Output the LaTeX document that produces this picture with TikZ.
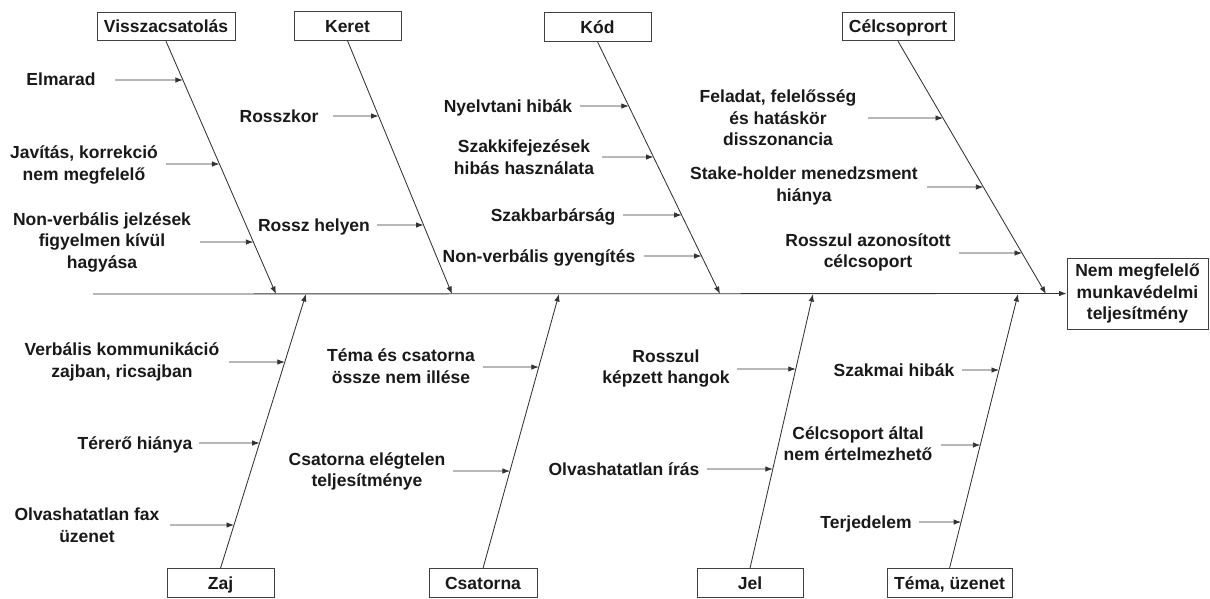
\documentclass[tikz,border=0pt]{standalone}
\usepackage{fontspec}
\setmainfont{Liberation Sans}
\usetikzlibrary{arrows.meta,calc}

% a cause arrow from a tail coordinate horizontally onto a branch line
\newcommand\causeto[2]{%
  \draw[cause] (#1) -- (intersection cs: first line={#2}, second line={(#1)--(#1 -| res.west)});}

\begin{document}
\begin{tikzpicture}[x=1pt,y=-1pt,
  every node/.style={font=\fontsize{17.5}{21.5}\selectfont\bfseries, text=black!90, inner sep=0pt},
  oneline/.style={text height=12.6pt, text depth=0pt},
  catbox/.style={draw=black!75, line width=0.9pt, minimum height=28.5pt, oneline},
  label/.style={align=center},
  line/.style={draw=black!80, line width=0.85pt},
  branch/.style={line, -{Latex[length=7.5pt,width=5.5pt]}},
  cause/.style={line, -{Latex[length=7.5pt,width=5.5pt]}}]
\useasboundingbox (0,0) rectangle (1210,598);

% effect box and spine
\node[draw=black!75, line width=0.9pt, minimum width=141pt, minimum height=71pt, align=center] (res) at (1137.5,293.5)
  {Nem megfelelő\\munkavédelmi\\teljesítmény};
\coordinate (spine) at (93,294);
\draw[branch] (spine) -- (res.west);

% category boxes above the spine
\node[catbox, minimum width=138pt] (vb) at (166,26.5) {Visszacsatolás};
\node[catbox, minimum width=107pt] (kb) at (347.5,26) {Keret};
\node[catbox, minimum width=107pt] (kd) at (597.5,27) {Kód};
\node[catbox, minimum width=112pt] (cb) at (898,26.5) {Célcsoprort};

% category boxes below the spine
\node[catbox, minimum width=107pt] (zb)  at (220.5,583) {Zaj};
\node[catbox, minimum width=108pt] (csb) at (483,583) {Csatorna};
\node[catbox, minimum width=106pt] (jb)  at (750,583) {Jel};
\node[catbox, minimum width=125pt] (tb)  at (949.5,583) {Téma, üzenet};

% points where the branches meet the spine
\coordinate (sv) at (276,294);
\coordinate (sk) at (452,294);
\coordinate (sd) at (720,294);
\coordinate (sc) at (1046,294);
\coordinate (sz) at (306,294);
\coordinate (ss) at (559,294);
\coordinate (sj) at (813,294);
\coordinate (st) at (1018,294);

% branches
\draw[branch] (vb.south) -- (sv);
\draw[branch] (kb.south) -- (sk);
\draw[branch] (kd.south) -- (sd);
\draw[branch] (cb.south) -- (sc);
\draw[branch] (zb.north) -- (sz);
\draw[branch] (csb.north) -- (ss);
\draw[branch] (jb.north) -- (sj);
\draw[branch] (tb.north) -- (st);

% Visszacsatolás
\node[label, oneline] (c1) at (61,79) {Elmarad};
\node[label] (c2) at (84,165) {Javítás, korrekció\\nem megfelelő};
\node[label] (c3) at (102,242) {Non-verbális jelzések\\figyelmen kívül\\hagyása};
\coordinate (a1) at (115,80);
\coordinate (a2) at (166,164);
\coordinate (a3) at (200,242);
\causeto{a1}{(vb.south)--(sv)}
\causeto{a2}{(vb.south)--(sv)}
\causeto{a3}{(vb.south)--(sv)}

% Keret
\node[label, oneline] (c4) at (279,116) {Rosszkor};
\node[label, oneline] (c5) at (314,225) {Rossz helyen};
\coordinate (a4) at (333,116);
\coordinate (a5) at (377,225);
\causeto{a4}{(kb.south)--(sk)}
\causeto{a5}{(kb.south)--(sk)}

% Kód
\node[label, oneline] (c6) at (508,106) {Nyelvtani hibák};
\node[label] (c7) at (524,157) {Szakkifejezések\\hibás használata};
\node[label, oneline] (c8) at (553,215) {Szakbarbárság};
\node[label, oneline] (c9) at (539,256) {Non-verbális gyengítés};
\coordinate (a6) at (580,106);
\coordinate (a7) at (602,157);
\coordinate (a8) at (623,215);
\coordinate (a9) at (644,256);
\causeto{a6}{(kd.south)--(sd)}
\causeto{a7}{(kd.south)--(sd)}
\causeto{a8}{(kd.south)--(sd)}
\causeto{a9}{(kd.south)--(sd)}

% Célcsoprort
\node[label] (c10) at (778,118) {Feladat, felelősség\\és hatáskör\\disszonancia};
\node[label] (c11) at (804,186) {Stake-holder menedzsment\\hiánya};
\node[label] (c12) at (868,252.5) {Rosszul azonosított\\célcsoport};
\coordinate (a10) at (868,118);
\coordinate (a11) at (927,187);
\coordinate (a12) at (959,253);
\causeto{a10}{(cb.south)--(sc)}
\causeto{a11}{(cb.south)--(sc)}
\causeto{a12}{(cb.south)--(sc)}

% Zaj
\node[label] (c13) at (122,362) {Verbális kommunikáció\\zajban, ricsajban};
\node[label, oneline] (c14) at (135,443) {Térerő hiánya};
\node[label] (c15) at (87,525) {Olvashatatlan fax\\üzenet};
\coordinate (a13) at (229,362);
\coordinate (a14) at (199,443);
\coordinate (a15) at (170,525);
\causeto{a13}{(zb.north)--(sz)}
\causeto{a14}{(zb.north)--(sz)}
\causeto{a15}{(zb.north)--(sz)}

% Csatorna
\node[label] (c16) at (401,366) {Téma és csatorna\\össze nem illése};
\node[label] (c17) at (367,471.5) {Csatorna elégtelen\\teljesítménye};
\coordinate (a16) at (483,367);
\coordinate (a17) at (453,471);
\causeto{a16}{(csb.north)--(ss)}
\causeto{a17}{(csb.north)--(ss)}

% Jel
\node[label] (c18) at (666,368.5) {Rosszul\\képzett hangok};
\node[label, oneline] (c19) at (624,469) {Olvashatatlan írás};
\coordinate (a18) at (737,369);
\coordinate (a19) at (707,469);
\causeto{a18}{(jb.north)--(sj)}
\causeto{a19}{(jb.north)--(sj)}

% Téma, üzenet
\node[label, oneline] (c20) at (894,370) {Szakmai hibák};
\node[label] (c21) at (858,443.5) {Célcsoport által\\nem értelmezhető};
\node[label, oneline] (c22) at (866,522) {Terjedelem};
\coordinate (a20) at (962,370);
\coordinate (a21) at (941,445);
\coordinate (a22) at (919,522);
\causeto{a20}{(tb.north)--(st)}
\causeto{a21}{(tb.north)--(st)}
\causeto{a22}{(tb.north)--(st)}
\end{tikzpicture}
\end{document}
